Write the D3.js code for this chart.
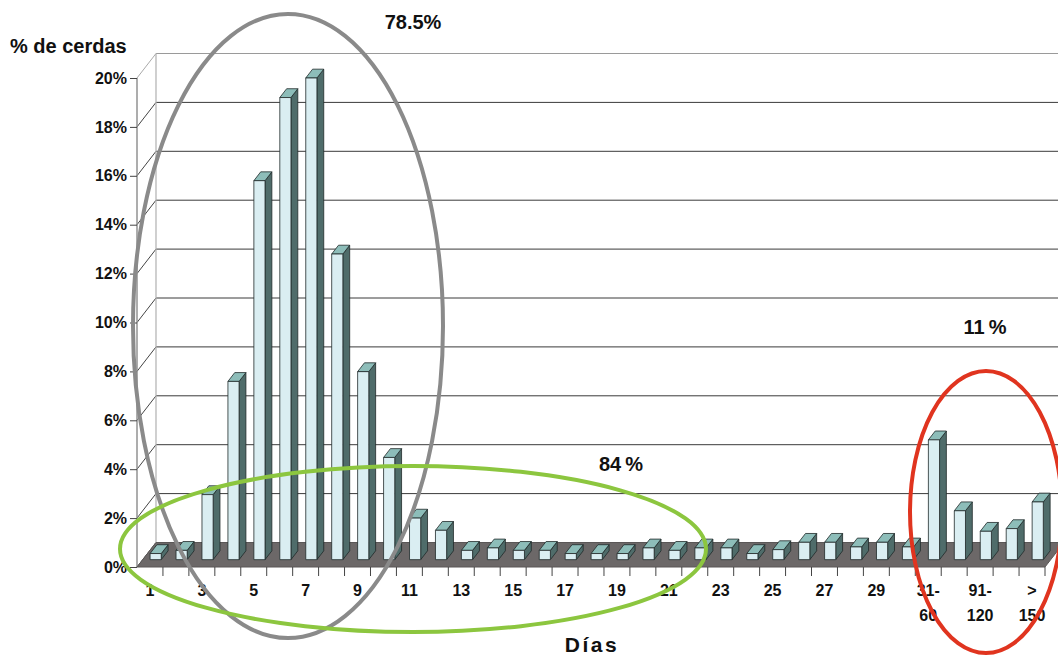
<!DOCTYPE html>
<html>
<head>
<meta charset="utf-8">
<script src="https://cdn.jsdelivr.net/npm/d3@7"></script>
<style>
  html, body { margin: 0; padding: 0; background: #fff; }
  svg { display: block; font-family: "Liberation Sans", Arial, sans-serif; }
</style>
</head>
<body>
<svg id="chart" width="1058" height="655"></svg>
<script>
// Días hasta la cubrición y porcentaje de cerdas
const categories = ["1","2","3","4","5","6","7","8","9","10",
  "11","12","13","14","15","16","17","18","19","20",
  "21","22","23","24","25","26","27","28","29","30",
  "31-60","61-90","91-120","121-150",">150"];
const values = [0.25, 0.38, 2.66, 7.29, 15.5, 18.9, 19.7, 12.5, 7.69, 4.18,
  1.7, 1.2, 0.38, 0.48, 0.38, 0.38, 0.25, 0.25, 0.25, 0.48,
  0.38, 0.48, 0.48, 0.25, 0.41, 0.71, 0.71, 0.52, 0.71, 0.52,
  4.9, 2.0, 1.16, 1.27, 2.36];
// Etiquetas visibles del eje X (una de cada dos), con saltos de línea
const tickLabels = {"1":["1"],"3":["3"],"5":["5"],"7":["7"],"9":["9"],"11":["11"],
  "13":["13"],"15":["15"],"17":["17"],"19":["19"],"21":["21"],"23":["23"],
  "25":["25"],"27":["27"],"29":["29"],"31-60":["31-","60"],"91-120":["91-","120"],
  ">150":[">","150"]};
const yTicks = [0, 2, 4, 6, 8, 10, 12, 14, 16, 18, 20];
const groupNotes = [
  {text: "78.5%", x: 413, y: 29},
  {text: "84\u2009%", x: 621, y: 471},
  {text: "11\u2009%", x: 985, y: 334}
];

const svg = d3.select("#chart");

// Proyección oblicua: el fondo está desplazado (DX, DY) respecto al frente
const DX = 19, DY = -24.5;
const x = d3.scaleBand().domain(categories).range([137, 1045]).padding(0);
const y = d3.scaleLinear().domain([0, 20]).range([567, 78]);
const bw = x.bandwidth();

// Pared del fondo: líneas de cuadrícula
svg.append("g").selectAll("line").data(yTicks).join("line")
  .attr("x1", 137 + DX).attr("x2", 1058 + 20)
  .attr("y1", d => y(d) + DY).attr("y2", d => y(d) + DY)
  .attr("stroke", d => d === 20 ? "#9a9a9a" : "#3a3a3a")
  .attr("stroke-width", 1);

// Pared lateral: diagonales
svg.append("g").selectAll("line").data(yTicks).join("line")
  .attr("x1", 137).attr("y1", d => y(d))
  .attr("x2", 137 + DX).attr("y2", d => y(d) + DY)
  .attr("stroke", d => d === 20 ? "#aaa" : "#444")
  .attr("stroke-width", 1);

// Aristas verticales de la pared lateral
svg.append("line").attr("x1", 137 + DX).attr("x2", 137 + DX)
  .attr("y1", y(20) + DY).attr("y2", y(0) + DY)
  .attr("stroke", "#b0b0b0").attr("stroke-width", 1.2);
svg.append("line").attr("x1", 137).attr("x2", 137)
  .attr("y1", y(20)).attr("y2", y(0))
  .attr("stroke", "#8a8a8a").attr("stroke-width", 1.4);

// Suelo
const fl = [[137, y(0)], [1045, y(0)], [1045 + DX, y(0) + DY], [137 + DX, y(0) + DY]];
svg.append("path")
  .attr("d", "M" + fl.map(p => p.join(",")).join("L") + "Z")
  .attr("fill", "#6c6868").attr("stroke", "#5a5757").attr("stroke-width", 1);

// Columnas 3D
const t0 = 0.3, t1 = 0.66;
const fw = bw * 0.43;
const bars = svg.append("g").selectAll("g").data(categories.map((c, i) => ({c, v: values[i]}))).join("g");
bars.each(function(d) {
  const g = d3.select(this);
  const xl = x(d.c) + (bw - fw) / 2 + DX * t0;
  const xr = xl + fw;
  const yb = y(0) + DY * t0;
  const yt = y(d.v) + DY * t0;
  const ddx = DX * (t1 - t0), ddy = DY * (t1 - t0);
  const poly = pts => "M" + pts.map(p => p.join(",")).join("L") + "Z";
  // lateral
  g.append("path").attr("d", poly([[xr, yb], [xr + ddx, yb + ddy], [xr + ddx, yt + ddy], [xr, yt]]))
    .attr("fill", "#4f6c6a").attr("stroke", "#1f2a2a").attr("stroke-width", 0.8);
  // superior
  g.append("path").attr("d", poly([[xl, yt], [xr, yt], [xr + ddx, yt + ddy], [xl + ddx, yt + ddy]]))
    .attr("fill", "#8dbdb9").attr("stroke", "#1f2a2a").attr("stroke-width", 0.8);
  // frontal
  g.append("path").attr("d", poly([[xl, yb], [xr, yb], [xr, yt], [xl, yt]]))
    .attr("fill", "#daeef2").attr("stroke", "#1f2a2a").attr("stroke-width", 0.8);
});

// Eje Y: marcas y etiquetas
const yAxis = svg.append("g").attr("transform", "translate(137,0)")
  .call(d3.axisLeft(y).tickValues(yTicks).tickSize(7).tickPadding(3).tickFormat(d => d + "%"));
yAxis.select(".domain").remove();
yAxis.selectAll(".tick line").attr("stroke", "#444");
yAxis.selectAll(".tick text").attr("fill", "#111")
  .style("font-size", "16px").style("font-weight", "bold")
  .style("font-family", "'Liberation Sans', Arial, sans-serif");

// Eje X: marcas en los límites de categoría
const bounds = categories.map(c => x(c)).concat([1045]);
svg.append("g").selectAll("line").data(bounds.slice(1)).join("line")
  .attr("x1", d => d).attr("x2", d => d)
  .attr("y1", y(0)).attr("y2", y(0) + 9)
  .attr("stroke", "#444").attr("stroke-width", 1);

const xl = svg.append("g").selectAll("text").data(categories.filter(c => tickLabels[c])).join("text")
  .attr("x", d => x(d) + bw / 2)
  .attr("y", 596)
  .attr("text-anchor", "middle")
  .attr("fill", "#111")
  .style("font-size", "16px").style("font-weight", "bold");
xl.each(function(d) {
  const t = d3.select(this);
  tickLabels[d].forEach((line, i) => {
    t.append("tspan").attr("x", x(d) + bw / 2).attr("dy", i === 0 ? 0 : 25).text(line);
  });
});

// Títulos de ejes
svg.append("text").attr("x", 10).attr("y", 53)
  .attr("fill", "#111").style("font-size", "20px").style("font-weight", "bold")
  .text("% de cerdas");
svg.append("text").attr("x", 592).attr("y", 652).attr("text-anchor", "middle")
  .attr("fill", "#111").style("font-size", "21px").style("font-weight", "bold")
  .style("letter-spacing", "2.5px")
  .text("Días");

// Agrupaciones resaltadas
svg.append("ellipse").attr("cx", 288).attr("cy", 326).attr("rx", 155).attr("ry", 312)
  .attr("fill", "none").attr("stroke", "#8a8a8a").attr("stroke-width", 4);
svg.append("ellipse").attr("cx", 413).attr("cy", 549).attr("rx", 293).attr("ry", 83)
  .attr("fill", "none").attr("stroke", "#8cc63f").attr("stroke-width", 4);
svg.append("ellipse").attr("cx", 986).attr("cy", 512).attr("rx", 76).attr("ry", 141)
  .attr("fill", "none").attr("stroke", "#e0341f").attr("stroke-width", 4);

svg.append("g").selectAll("text").data(groupNotes).join("text")
  .attr("x", d => d.x).attr("y", d => d.y).attr("text-anchor", "middle")
  .attr("fill", "#111").style("font-size", "20px").style("font-weight", "bold")
  .text(d => d.text);
</script>
</body>
</html>
